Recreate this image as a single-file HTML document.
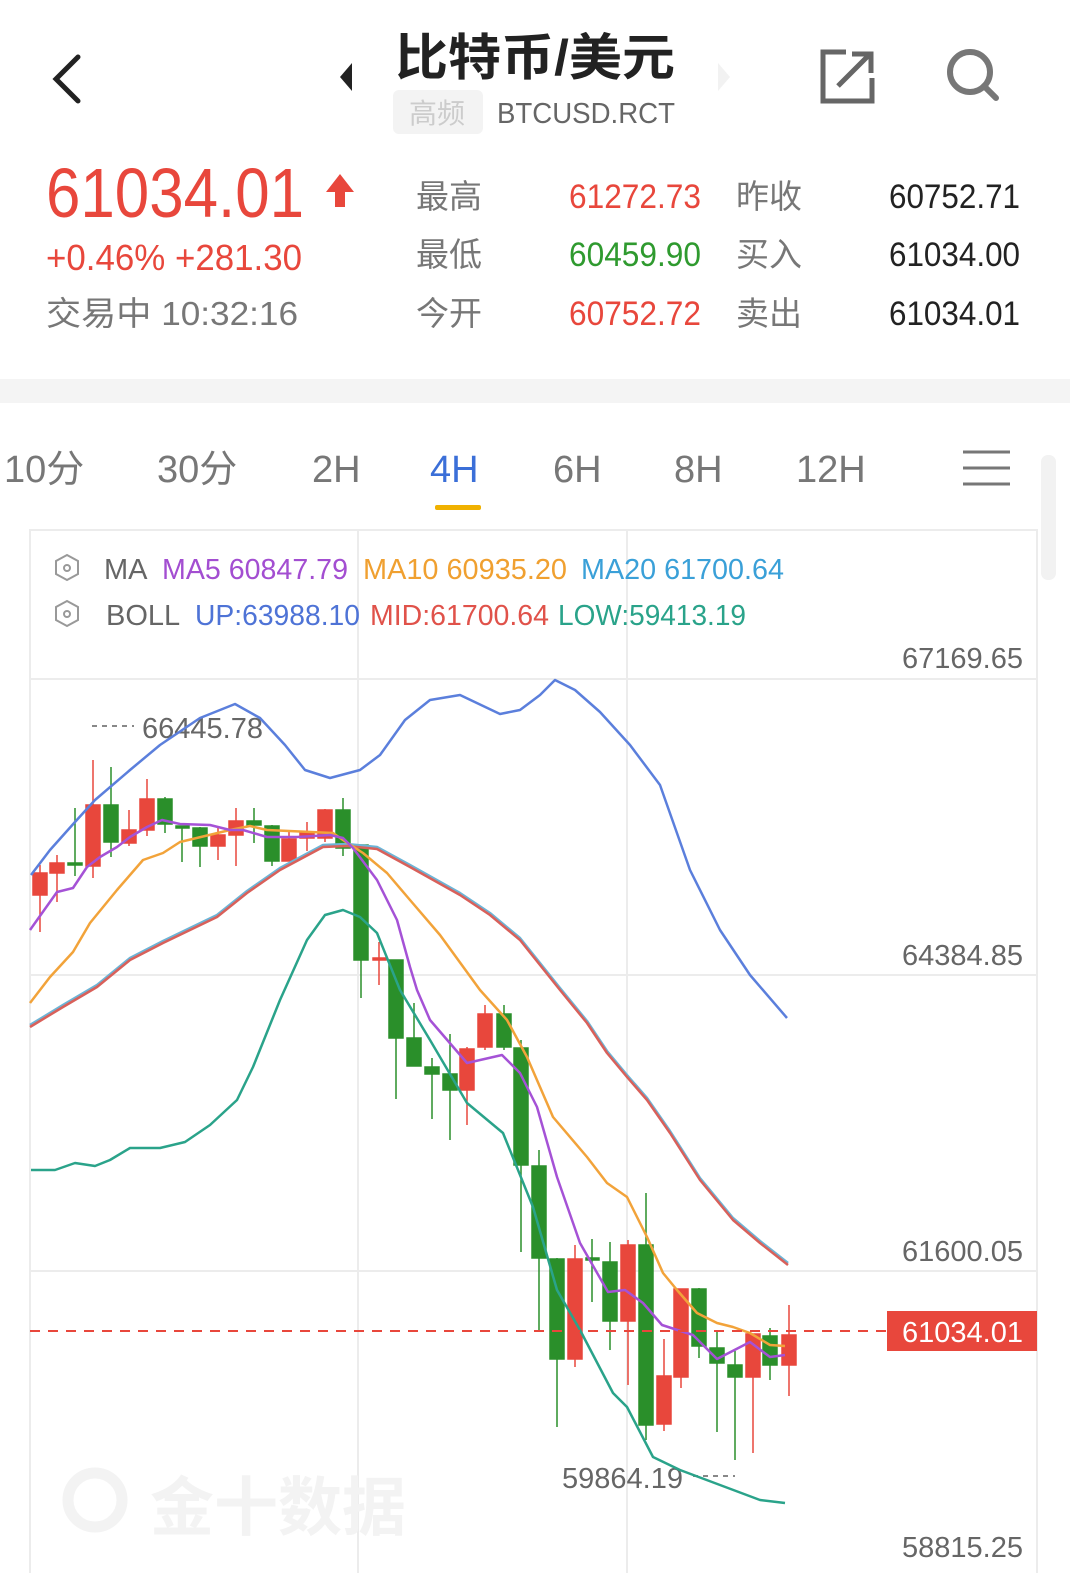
<!DOCTYPE html>
<html><head><meta charset="utf-8"><style>
html,body{margin:0;padding:0;background:#fff;width:1070px;height:1573px;overflow:hidden}
svg text{font-family:"Liberation Sans","Noto Sans CJK SC",sans-serif}
</style></head><body>
<svg width="1070" height="1573" viewBox="0 0 1070 1573" xmlns="http://www.w3.org/2000/svg">
<!-- header -->
<polyline points="78,57 56,79 78,101" fill="none" stroke="#222" stroke-width="5" stroke-linecap="round"/>
<polygon points="352,63 340,77 352,91" fill="#222"/>
<polygon points="718,63 730,77 718,91" fill="#f2f2f2"/>
<text x="395" y="75" font-size="50" font-weight="bold" fill="#222" textLength="280" lengthAdjust="spacingAndGlyphs">比特币/美元</text>
<rect x="393" y="90" width="90" height="44" rx="6" fill="#f3f3f3"/>
<text x="409" y="123" font-size="28" fill="#ccc">高频</text>
<text x="497" y="123" font-size="29" fill="#666" textLength="178" lengthAdjust="spacingAndGlyphs">BTCUSD.RCT</text>
<path d="M846,52 H823 V101 H872 V78" fill="none" stroke="#666" stroke-width="5"/>
<path d="M838,86 L870,54 M852,54 H871 V73" fill="none" stroke="#666" stroke-width="5"/>
<circle cx="970" cy="72" r="20" fill="none" stroke="#777" stroke-width="6"/>
<line x1="984" y1="86" x2="996" y2="98" stroke="#777" stroke-width="6" stroke-linecap="round"/>

<text x="46" y="217" font-size="70" fill="#e8473c" textLength="258" lengthAdjust="spacingAndGlyphs">61034.01</text>
<path d="M340,174 L326,192 H335 V207 H345 V192 H354 Z" fill="#e8473c"/>
<text x="46" y="270" font-size="36" fill="#e8473c" textLength="256" lengthAdjust="spacingAndGlyphs">+0.46%  +281.30</text>
<text x="46" y="325" font-size="33" fill="#777" textLength="252" lengthAdjust="spacingAndGlyphs">交易中 10:32:16</text>
<g font-size="33" fill="#777">
<text x="416" y="208">最高</text><text x="416" y="266">最低</text><text x="416" y="325">今开</text>
<text x="736" y="208">昨收</text><text x="736" y="266">买入</text><text x="736" y="325">卖出</text>
</g>
<g font-size="34">
<text x="569" y="208" fill="#e8473c" textLength="132" lengthAdjust="spacingAndGlyphs">61272.73</text>
<text x="569" y="266" fill="#2f9a2f" textLength="132" lengthAdjust="spacingAndGlyphs">60459.90</text>
<text x="569" y="325" fill="#e8473c" textLength="132" lengthAdjust="spacingAndGlyphs">60752.72</text>
<text x="889" y="208" fill="#222" textLength="131" lengthAdjust="spacingAndGlyphs">60752.71</text>
<text x="889" y="266" fill="#222" textLength="131" lengthAdjust="spacingAndGlyphs">61034.00</text>
<text x="889" y="325" fill="#222" textLength="131" lengthAdjust="spacingAndGlyphs">61034.01</text>
</g>
<rect x="0" y="379" width="1070" height="24" fill="#f4f4f4"/>

<!-- tabs -->
<g font-size="38" fill="#777">
<text x="4" y="482">10分</text><text x="157" y="482">30分</text><text x="312" y="482">2H</text>
<text x="430" y="482" fill="#3b6fd8">4H</text><text x="553" y="482">6H</text><text x="674" y="482">8H</text><text x="796" y="482">12H</text>
</g>
<rect x="435" y="505" width="46" height="5" rx="2" fill="#f0b100"/>
<g stroke="#777" stroke-width="3"><line x1="963" y1="452" x2="1010" y2="452"/><line x1="963" y1="468" x2="1010" y2="468"/><line x1="963" y1="484" x2="1010" y2="484"/></g>
<rect x="1041" y="455" width="15" height="125" rx="7" fill="#f2f2f2"/>

<!-- chart frame -->
<g stroke="#ececec" stroke-width="2" fill="none">
<rect x="30" y="530" width="1007" height="1045"/>
<line x1="30" y1="679" x2="1037" y2="679"/><line x1="30" y1="975" x2="1037" y2="975"/><line x1="30" y1="1271" x2="1037" y2="1271"/>
<line x1="358" y1="530" x2="358" y2="1573"/><line x1="627" y1="530" x2="627" y2="1573"/>
</g>
<g fill="none" stroke="#999" stroke-width="2"><polygon points="67,555 78,561 78,574 67,580 56,574 56,561"/><circle cx="67" cy="568" r="3"/>
<polygon points="67,601 78,607 78,620 67,626 56,620 56,607"/><circle cx="67" cy="614" r="3"/></g>
<g font-size="29">
<text x="104" y="579" fill="#666">MA</text>
<text x="162" y="579" fill="#a34ed1" textLength="186" lengthAdjust="spacingAndGlyphs">MA5 60847.79</text>
<text x="363" y="579" fill="#f0a030" textLength="204" lengthAdjust="spacingAndGlyphs">MA10 60935.20</text>
<text x="581" y="579" fill="#3aa0d8" textLength="203" lengthAdjust="spacingAndGlyphs">MA20 61700.64</text>
<text x="106" y="625" fill="#666">BOLL</text>
<text x="195" y="625" fill="#4e73d6" textLength="165" lengthAdjust="spacingAndGlyphs">UP:63988.10</text>
<text x="370" y="625" fill="#e0524a" textLength="179" lengthAdjust="spacingAndGlyphs">MID:61700.64</text>
<text x="558" y="625" fill="#2aa38a" textLength="188" lengthAdjust="spacingAndGlyphs">LOW:59413.19</text>
</g>
<g font-size="29" fill="#666">
<text x="902" y="668" textLength="121" lengthAdjust="spacingAndGlyphs">67169.65</text>
<text x="902" y="965" textLength="121" lengthAdjust="spacingAndGlyphs">64384.85</text>
<text x="902" y="1261" textLength="121" lengthAdjust="spacingAndGlyphs">61600.05</text>
<text x="902" y="1557" textLength="121" lengthAdjust="spacingAndGlyphs">58815.25</text>
<text x="142" y="738" textLength="121" lengthAdjust="spacingAndGlyphs">66445.78</text>
<text x="562" y="1488" textLength="121" lengthAdjust="spacingAndGlyphs">59864.19</text>
</g>
<line x1="92" y1="726" x2="134" y2="726" stroke="#888" stroke-width="2" stroke-dasharray="5,5"/>
<line x1="693" y1="1476" x2="735" y2="1476" stroke="#888" stroke-width="2" stroke-dasharray="5,5"/>
<text x="150" y="1530" font-size="64" font-weight="bold" fill="#f3f3f3">金十数据</text>
<circle cx="95" cy="1500" r="27" fill="none" stroke="#f3f3f3" stroke-width="11"/>

<!-- candles -->
<g stroke-width="1.5">
<g stroke="#e8473c" fill="#e8473c">
<line x1="40" y1="865" x2="40" y2="932"/><rect x="33" y="873" width="14" height="22"/>
<line x1="57" y1="855" x2="57" y2="902"/><rect x="50" y="863" width="14" height="10"/>
<line x1="93" y1="760" x2="93" y2="878"/><rect x="86" y="805" width="14" height="61"/>
<line x1="129" y1="810" x2="129" y2="846"/><rect x="122" y="830" width="14" height="13"/>
<line x1="147" y1="779" x2="147" y2="836"/><rect x="140" y="799" width="14" height="31"/>
<line x1="218" y1="828" x2="218" y2="860"/><rect x="211" y="835" width="14" height="11"/>
<line x1="236" y1="808" x2="236" y2="866"/><rect x="229" y="821" width="14" height="14"/>
<line x1="289" y1="830" x2="289" y2="861"/><rect x="282" y="839" width="14" height="22"/>
<line x1="307" y1="822" x2="307" y2="851"/><rect x="300" y="832" width="14" height="6"/>
<line x1="325" y1="809" x2="325" y2="842"/><rect x="318" y="810" width="14" height="28"/>
<line x1="379" y1="942" x2="379" y2="985"/><rect x="373" y="958" width="13" height="2"/>
<line x1="467" y1="1047" x2="467" y2="1125"/><rect x="460" y="1049" width="14" height="41"/>
<line x1="485" y1="1005" x2="485" y2="1050"/><rect x="478" y="1014" width="14" height="33"/>
<line x1="575" y1="1245" x2="575" y2="1367"/><rect x="568" y="1259" width="14" height="100"/>
<line x1="628" y1="1240" x2="628" y2="1385"/><rect x="621" y="1245" width="14" height="76"/>
<line x1="664" y1="1339" x2="664" y2="1431"/><rect x="657" y="1376" width="14" height="48"/>
<line x1="681" y1="1289" x2="681" y2="1388"/><rect x="674" y="1289" width="14" height="88"/>
<line x1="753" y1="1334" x2="753" y2="1453"/><rect x="746" y="1334" width="14" height="43"/>
<line x1="789" y1="1305" x2="789" y2="1396"/><rect x="782" y="1335" width="14" height="30"/>
</g>
<g stroke="#2a8f2a" fill="#2a8f2a">
<line x1="75" y1="808" x2="75" y2="876"/><rect x="68" y="863" width="14" height="2"/>
<line x1="111" y1="767" x2="111" y2="857"/><rect x="104" y="805" width="14" height="37"/>
<line x1="165" y1="797" x2="165" y2="833"/><rect x="158" y="799" width="14" height="25"/>
<line x1="182" y1="826" x2="182" y2="862"/><rect x="176" y="826" width="13" height="2"/>
<line x1="200" y1="827" x2="200" y2="867"/><rect x="193" y="828" width="14" height="18"/>
<line x1="254" y1="808" x2="254" y2="843"/><rect x="247" y="821" width="14" height="4"/>
<line x1="272" y1="825" x2="272" y2="866"/><rect x="265" y="826" width="14" height="35"/>
<line x1="343" y1="798" x2="343" y2="856"/><rect x="336" y="810" width="14" height="38"/>
<line x1="361" y1="845" x2="361" y2="998"/><rect x="354" y="845" width="14" height="115"/>
<line x1="396" y1="960" x2="396" y2="1099"/><rect x="389" y="960" width="14" height="78"/>
<line x1="414" y1="1003" x2="414" y2="1066"/><rect x="407" y="1038" width="14" height="28"/>
<line x1="432" y1="1058" x2="432" y2="1119"/><rect x="425" y="1067" width="14" height="7"/>
<line x1="450" y1="1034" x2="450" y2="1140"/><rect x="443" y="1074" width="14" height="16"/>
<line x1="504" y1="1005" x2="504" y2="1050"/><rect x="497" y="1014" width="14" height="33"/>
<line x1="521" y1="1040" x2="521" y2="1252"/><rect x="514" y="1048" width="14" height="117"/>
<line x1="539" y1="1150" x2="539" y2="1330"/><rect x="532" y="1166" width="14" height="92"/>
<line x1="557" y1="1258" x2="557" y2="1427"/><rect x="550" y="1259" width="14" height="100"/>
<line x1="592" y1="1239" x2="592" y2="1302"/><rect x="586" y="1258" width="13" height="2"/>
<line x1="610" y1="1242" x2="610" y2="1350"/><rect x="603" y="1262" width="14" height="59"/>
<line x1="646" y1="1193" x2="646" y2="1440"/><rect x="639" y="1245" width="14" height="180"/>
<line x1="699" y1="1288" x2="699" y2="1358"/><rect x="692" y="1289" width="14" height="57"/>
<line x1="717" y1="1332" x2="717" y2="1432"/><rect x="710" y="1348" width="14" height="15"/>
<line x1="735" y1="1351" x2="735" y2="1460"/><rect x="728" y="1365" width="14" height="12"/>
<line x1="770" y1="1328" x2="770" y2="1380"/><rect x="763" y="1336" width="14" height="29"/>
</g>
</g>

<!-- lines -->
<g fill="none" stroke-width="2.5" stroke-linejoin="round">
<polyline stroke="#5b7fdc" points="31,875 50,850 75,822 95,800 130,770 160,745 200,718 235,704 260,718 285,745 305,770 330,778 360,770 380,755 405,720 430,700 460,695 500,714 520,710 540,695 555,680 575,690 600,712 630,745 660,785 690,870 720,930 750,975 787,1018"/>
<polyline stroke="#6cb4d6" points="30,1025 63,1005 97,985 130,958 163,941 190,928 217,915 247,891 280,868 323,845 347,844 377,847 410,865 460,893 490,913 520,938 560,988 587,1021 607,1051 627,1075 647,1098 670,1131 700,1178 733,1218 760,1241 788,1263"/>
<polyline stroke="#d9605a" points="30,1027 63,1007 97,987 130,960 163,943 190,930 217,917 247,893 280,870 323,847 347,846 377,849 410,867 460,895 490,915 520,940 560,990 587,1023 607,1053 627,1077 647,1100 670,1133 700,1180 733,1220 760,1243 788,1265"/>
<polyline stroke="#f2a33a" points="30,1003 50,977 73,952 90,923 117,890 143,860 163,853 180,842 230,830 250,826 267,830 333,833 343,840 363,853 387,873 410,900 440,935 480,990 507,1020 527,1057 553,1117 587,1157 607,1183 627,1197 647,1237 663,1273 677,1290 697,1313 717,1323 733,1327 750,1333 770,1345 785,1346"/>
<polyline stroke="#a552d6" points="30,930 57,892 73,888 87,867 100,857 117,847 130,837 147,827 162,820 180,824 210,825 230,830 243,830 267,837 297,837 330,835 343,838 353,848 377,880 397,920 410,967 417,990 430,1020 467,1063 502,1055 520,1073 537,1107 557,1177 580,1243 608,1292 625,1290 643,1303 662,1325 693,1335 717,1359 750,1342 770,1357 785,1355"/>
<polyline stroke="#2aa38a" points="31,1170 55,1170 75,1163 95,1166 110,1160 130,1148 160,1148 185,1142 210,1125 237,1100 253,1067 280,1000 307,940 325,915 343,910 360,917 377,933 400,990 430,1040 467,1103 503,1133 533,1207 557,1290 580,1330 613,1393 627,1407 653,1457 680,1470 720,1485 760,1500 785,1503"/>
</g>

<!-- current price -->
<line x1="30" y1="1331" x2="888" y2="1331" stroke="#e8473c" stroke-width="2" stroke-dasharray="10,8"/>
<rect x="887" y="1311" width="150" height="40" fill="#e8473c"/>
<text x="902" y="1342" font-size="29" fill="#fff" textLength="121" lengthAdjust="spacingAndGlyphs">61034.01</text>
</svg>
</body></html>
